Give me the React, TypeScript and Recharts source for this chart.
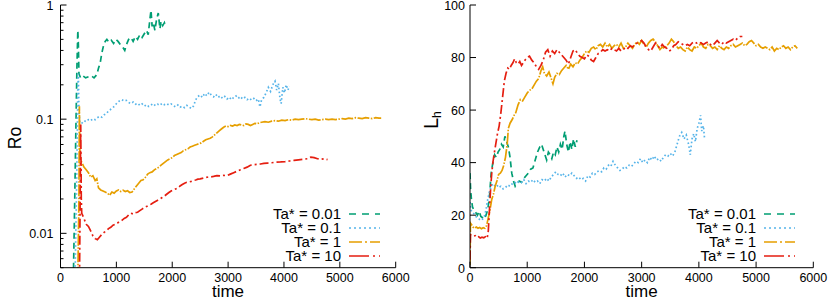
import React from 'react';
import { LineChart, Line, XAxis, YAxis } from 'recharts';

type P = [number, number];

const FONT = 'Liberation Sans, Arial, Helvetica, sans-serif';

const timeTicks = [0, 1000, 2000, 3000, 4000, 5000, 6000];
const roTicks = [0.005, 0.006, 0.007, 0.008, 0.009, 0.01, 0.02, 0.03, 0.04, 0.05, 0.06, 0.07, 0.08, 0.09, 0.1, 0.2, 0.3, 0.4, 0.5, 0.6, 0.7, 0.8, 0.9, 1];
const lhTicks = [0, 20, 40, 60, 80, 100];

const seriesNames = ['Ta* = 0.01', 'Ta* = 0.1', 'Ta* = 1', 'Ta* = 10'];
const seriesColors = ['#009e73', '#56b4e9', '#e69f00', '#e51e10'];
const legendDash = ['7 6', '2 3', '13 3 2 3', '20 4 2 4'];
const plotDash = ['6 4', '1.6 2.4', '12 1.5 1.5 1.5', '9 3 2 3'];

// Ro vs time
const roTa001: P[] = [[230,0.004],[255,0.02],[275,0.08],[295,0.3],[310,0.6],[320,0.45],[330,0.25],[360,0.23],[400,0.24],[450,0.23],[500,0.235],[550,0.24],[600,0.23],[650,0.245],[680,0.28],[710,0.31],[740,0.38],[770,0.44],[800,0.48],[830,0.5],[870,0.47],[910,0.49],[950,0.46],[990,0.5],[1030,0.48],[1070,0.45],[1110,0.43],[1150,0.4],[1180,0.45],[1220,0.5],[1260,0.52],[1300,0.48],[1340,0.53],[1380,0.5],[1420,0.55],[1460,0.52],[1500,0.56],[1540,0.6],[1570,0.55],[1600,0.75],[1620,0.9],[1640,0.65],[1660,0.7],[1690,0.6],[1720,0.75],[1750,0.85],[1780,0.62],[1800,0.72],[1830,0.66],[1860,0.7],[1880,0.64]];

const roTa01: P[] = [[260,0.004],[290,0.03],[310,0.2],[320,0.25],[330,0.12],[345,0.093],[380,0.092],[420,0.097],[460,0.095],[500,0.099],[540,0.097],[580,0.101],[620,0.099],[660,0.103],[700,0.106],[740,0.104],[780,0.109],[820,0.112],[860,0.118],[900,0.122],[940,0.126],[980,0.133],[1020,0.14],[1060,0.145],[1100,0.148],[1140,0.144],[1180,0.146],[1220,0.14],[1260,0.137],[1300,0.141],[1340,0.135],[1380,0.138],[1420,0.132],[1460,0.136],[1500,0.13],[1540,0.134],[1580,0.129],[1620,0.133],[1660,0.137],[1700,0.131],[1740,0.135],[1780,0.132],[1820,0.138],[1860,0.134],[1900,0.137],[1940,0.133],[1980,0.136],[2020,0.131],[2060,0.128],[2100,0.133],[2140,0.127],[2180,0.13],[2220,0.126],[2260,0.132],[2300,0.128],[2340,0.124],[2380,0.13],[2420,0.148],[2460,0.158],[2500,0.163],[2540,0.155],[2580,0.168],[2620,0.16],[2660,0.172],[2700,0.162],[2740,0.157],[2780,0.165],[2820,0.155],[2860,0.16],[2900,0.152],[2940,0.158],[2980,0.15],[3020,0.156],[3060,0.148],[3100,0.155],[3140,0.16],[3180,0.152],[3220,0.158],[3260,0.15],[3300,0.155],[3340,0.148],[3380,0.153],[3420,0.147],[3460,0.152],[3500,0.145],[3540,0.15],[3570,0.128],[3600,0.148],[3640,0.155],[3680,0.17],[3720,0.19],[3760,0.175],[3800,0.2],[3840,0.215],[3870,0.18],[3900,0.205],[3930,0.15],[3950,0.137],[3980,0.19],[4010,0.17],[4040,0.2],[4070,0.18],[4100,0.195]];

const roTa1: P[] = [[310,0.004],[330,0.02],[338,0.13],[345,0.06],[350,0.044],[380,0.042],[420,0.038],[460,0.036],[500,0.034],[540,0.031],[580,0.032],[620,0.029],[650,0.03],[680,0.025],[720,0.024],[760,0.0235],[800,0.023],[840,0.0225],[880,0.0215],[920,0.023],[960,0.0225],[1000,0.0235],[1040,0.024],[1080,0.0232],[1120,0.0238],[1160,0.0232],[1200,0.0236],[1240,0.0228],[1280,0.023],[1320,0.0245],[1360,0.026],[1400,0.0275],[1440,0.029],[1480,0.0295],[1520,0.031],[1560,0.033],[1600,0.034],[1640,0.0345],[1680,0.036],[1720,0.037],[1760,0.038],[1800,0.0395],[1840,0.041],[1880,0.0425],[1920,0.044],[1960,0.045],[2000,0.046],[2040,0.048],[2080,0.049],[2120,0.05],[2160,0.051],[2200,0.053],[2240,0.054],[2280,0.055],[2320,0.057],[2360,0.058],[2400,0.059],[2440,0.06],[2480,0.061],[2520,0.062],[2560,0.064],[2600,0.066],[2640,0.067],[2680,0.068],[2720,0.07],[2760,0.073],[2800,0.076],[2840,0.079],[2880,0.082],[2920,0.085],[2960,0.087],[3000,0.086],[3040,0.088],[3080,0.087],[3120,0.089],[3160,0.088],[3200,0.09],[3240,0.089],[3280,0.088],[3320,0.091],[3360,0.09],[3400,0.088],[3440,0.09],[3480,0.092],[3520,0.091],[3560,0.093],[3600,0.094],[3660,0.095],[3720,0.094],[3780,0.096],[3840,0.097],[3900,0.096],[3960,0.098],[4020,0.097],[4080,0.099],[4140,0.098],[4200,0.1],[4260,0.099],[4320,0.1],[4380,0.101],[4440,0.1],[4500,0.099],[4560,0.1],[4620,0.098],[4680,0.099],[4740,0.1],[4800,0.099],[4860,0.1],[4920,0.099],[4980,0.1],[5040,0.101],[5100,0.1],[5160,0.102],[5220,0.101],[5280,0.103],[5340,0.102],[5400,0.101],[5460,0.103],[5520,0.102],[5580,0.101],[5640,0.103],[5700,0.102],[5740,0.102]];

const roTa10: P[] = [[340,0.004],[355,0.03],[362,0.09],[368,0.04],[372,0.02],[380,0.015],[420,0.0135],[460,0.012],[500,0.0115],[540,0.0105],[580,0.0095],[620,0.009],[660,0.0088],[700,0.0093],[740,0.0098],[780,0.0102],[820,0.0105],[860,0.011],[900,0.0113],[940,0.0118],[980,0.012],[1020,0.0123],[1060,0.0127],[1100,0.013],[1140,0.0135],[1180,0.0138],[1220,0.0145],[1260,0.015],[1300,0.0148],[1340,0.0152],[1380,0.0153],[1420,0.0158],[1460,0.0163],[1500,0.0168],[1540,0.0172],[1580,0.0176],[1620,0.018],[1660,0.0185],[1700,0.019],[1740,0.0195],[1780,0.02],[1820,0.0206],[1860,0.0212],[1900,0.022],[1940,0.0228],[1980,0.0235],[2020,0.024],[2060,0.0245],[2100,0.025],[2140,0.026],[2180,0.0268],[2220,0.0275],[2260,0.028],[2300,0.0282],[2340,0.0285],[2380,0.029],[2420,0.0293],[2460,0.0298],[2500,0.03],[2560,0.0305],[2620,0.031],[2680,0.0312],[2740,0.0315],[2800,0.032],[2860,0.0318],[2920,0.0322],[2980,0.032],[3040,0.033],[3100,0.034],[3160,0.035],[3220,0.036],[3280,0.037],[3340,0.038],[3400,0.0395],[3460,0.04],[3520,0.0402],[3580,0.0405],[3640,0.041],[3700,0.0412],[3780,0.0415],[3860,0.042],[3940,0.0422],[4020,0.0425],[4100,0.043],[4180,0.0435],[4260,0.044],[4340,0.0445],[4420,0.045],[4480,0.0465],[4540,0.046],[4600,0.045],[4660,0.0445],[4720,0.045],[4780,0.0442]];

// L_h vs time
const lhTa001: P[] = [[0,36],[10,30],[25,26],[45,23],[70,22],[100,21],[130,20],[160,21.5],[190,19.5],[220,19],[250,18.5],[280,20],[310,22],[340,27],[370,36],[400,40],[430,43],[460,42],[490,44],[520,45],[550,47],[580,46],[610,50],[640,48],[670,46],[700,42],[730,36],[760,33],[790,31],[820,32],[860,33],[900,32.5],[940,34],[980,35],[1020,36],[1060,37.5],[1100,38],[1140,41],[1180,44],[1220,46],[1250,47],[1280,45],[1310,43],[1340,41],[1370,44],[1400,43],[1430,41.5],[1460,44],[1490,43],[1520,46],[1550,44],[1580,47],[1610,45],[1640,50],[1660,52],[1690,47],[1720,44],[1750,48],[1780,45],[1810,49],[1840,46],[1870,48.5]];

const lhTa01: P[] = [[0,25],[15,22],[40,21],[70,20.5],[100,19.5],[130,19],[160,18.5],[190,18],[220,18.5],[250,19.5],[280,22],[310,26],[340,29],[370,31],[400,32],[440,31],[470,31.5],[500,30.5],[540,31],[580,30],[620,30.5],[660,31.5],[700,31],[740,32],[780,32.5],[820,32],[860,33],[900,32.5],[940,33.5],[980,32],[1020,33],[1060,32.5],[1100,33.5],[1140,32.5],[1180,33],[1220,32],[1260,33.5],[1300,33],[1340,34],[1380,33],[1420,34.5],[1460,35.5],[1500,36.5],[1540,35.5],[1580,35],[1620,36],[1660,34.5],[1700,35.5],[1740,35],[1780,36],[1820,35],[1860,34],[1900,34.5],[1940,33.5],[1980,34],[2020,33],[2060,35],[2100,34.5],[2140,36],[2180,35.5],[2220,36.5],[2260,37],[2300,36.5],[2340,38],[2380,37.5],[2420,39],[2460,38.5],[2500,40.5],[2540,39],[2580,38],[2620,37],[2660,37.5],[2700,38.5],[2740,38],[2780,39],[2820,38.5],[2860,39.5],[2900,40.5],[2940,40],[2980,41.5],[3020,40],[3060,41],[3100,40],[3140,42],[3180,41],[3220,42.5],[3260,41],[3300,41.5],[3340,40.5],[3380,42],[3420,43],[3460,42.5],[3500,43.5],[3540,42.5],[3580,44],[3620,47],[3660,50],[3700,51.5],[3740,49],[3780,50.5],[3820,47],[3850,43],[3880,49],[3910,51],[3940,48],[3970,53],[4000,55],[4030,58],[4050,52],[4080,54],[4100,49]];

const lhTa1: P[] = [[0,1],[8,17],[25,16.5],[50,15.5],[80,15],[110,15.5],[140,15],[170,15.3],[200,14.8],[230,15.2],[260,15],[290,16],[320,19],[350,22],[380,26],[410,28],[440,31],[470,33],[500,35.5],[530,36],[560,37],[590,39],[620,42],[650,47],[670,53],[700,55],[740,56.5],[770,58],[800,59],[840,62],[880,64],[920,63.5],[960,65],[1000,66.5],[1040,67.5],[1080,68],[1120,69.5],[1160,71],[1200,72],[1240,75],[1270,76.5],[1300,74],[1340,73],[1380,74.5],[1420,72],[1450,70],[1480,72.5],[1520,74],[1560,73.5],[1600,75],[1640,76],[1680,77],[1720,75.5],[1760,77.5],[1800,76.5],[1840,78],[1880,77.5],[1920,79],[1960,80],[2000,81.5],[2040,82.5],[2080,82],[2120,83.5],[2160,84],[2200,83],[2240,84.5],[2280,85],[2320,84],[2360,85.5],[2400,84],[2440,85],[2480,83.5],[2520,84.5],[2560,85],[2600,84],[2640,85.5],[2680,83.5],[2720,84],[2760,85.5],[2800,84.5],[2840,83.5],[2880,85],[2920,86],[2960,85],[3000,86.5],[3040,85],[3080,84],[3120,85.5],[3160,86.5],[3200,87],[3240,86],[3280,84.5],[3320,83],[3360,84],[3400,83.5],[3440,84.5],[3480,85.5],[3520,87],[3560,86],[3600,84.5],[3640,83.5],[3680,84],[3720,83],[3760,82.5],[3800,84],[3840,83],[3880,82.5],[3920,84],[3960,83.5],[4000,84.5],[4040,85.5],[4080,84],[4120,83.5],[4160,85],[4200,84.5],[4240,83.5],[4280,84],[4320,83],[4360,84.5],[4400,83.5],[4440,83],[4480,84],[4520,83.5],[4560,84.5],[4600,85],[4640,84],[4680,84.5],[4720,85],[4760,85.5],[4800,84.5],[4840,85],[4880,86],[4920,86.5],[4960,85.5],[5000,84.5],[5040,85],[5080,84],[5120,83.5],[5160,84],[5200,83.5],[5240,83],[5280,84],[5320,82.5],[5360,83.5],[5400,83],[5440,84],[5480,84.5],[5520,83.5],[5560,84],[5600,83],[5640,84],[5680,84.5],[5720,83.5]];

const lhTa10: P[] = [[0,3],[8,12.5],[30,12.5],[60,12],[90,12.2],[120,11.5],[150,11.8],[180,11.3],[210,11.6],[240,11.4],[270,11.8],[300,11.2],[320,14],[340,22],[360,30],[380,36],[400,40],[420,43],[450,47],[480,51],[510,54],[540,59],[570,65],[600,71],[630,74],[660,76],[690,75.5],[720,77],[750,78],[780,79.5],[810,78],[840,77.5],[870,78.5],[900,77],[930,78],[960,79],[1000,80],[1040,80.5],[1080,79],[1120,78],[1160,76.5],[1200,75.5],[1240,77],[1280,79],[1320,82],[1360,83],[1400,80.5],[1440,82.5],[1480,81.5],[1520,83],[1560,82],[1600,81],[1640,80],[1680,79],[1720,77.5],[1760,80],[1800,82.5],[1840,83],[1880,81.5],[1920,80.5],[1960,80],[2000,79.5],[2040,81],[2080,80.5],[2120,79],[2160,78.5],[2200,80],[2240,81.5],[2280,82],[2320,83],[2360,82.5],[2400,83],[2440,82.5],[2480,83.5],[2520,83],[2560,82.5],[2600,83.5],[2640,82.5],[2680,83],[2720,84],[2760,83.5],[2800,84.5],[2840,84],[2880,85],[2920,85.5],[2960,86],[3000,86.5],[3040,85.5],[3080,84],[3120,83],[3160,82.5],[3200,84],[3240,85.5],[3280,84.5],[3320,83.5],[3360,85],[3400,84],[3440,83.5],[3480,82.5],[3520,83],[3560,84.5],[3600,85],[3640,86],[3680,85.5],[3720,85],[3760,84.5],[3800,85],[3840,84.5],[3880,85.5],[3920,86],[3960,85.5],[4000,86],[4040,85.5],[4080,85],[4120,85.5],[4160,86],[4200,85],[4240,84.5],[4280,85.5],[4320,86.5],[4360,85.5],[4400,85],[4440,86],[4480,85.5],[4520,86],[4560,86.5],[4600,87],[4640,86.5],[4680,87.5],[4720,88],[4760,88]];

const roSeries = [roTa001, roTa01, roTa1, roTa10];
const lhSeries = [lhTa001, lhTa01, lhTa1, lhTa10];

const toRows = (pts: P[]) => pts.map(([t, v]) => ({ t, v }));

const TICK_FS = 12.5;

const isMajorLog = (v: number) => {
  const lg = Math.log10(v);
  return Math.abs(lg - Math.round(lg)) < 1e-6;
};

const fmtRo = (v: number) => (v >= 1 ? '1' : v >= 0.1 ? '0.1' : '0.01');

const BottomTick = (props: any) => {
  const { x, y, payload } = props;
  return (
    <g>
      <line x1={x} x2={x} y1={y} y2={y - 6} stroke="#000" strokeWidth={1} />
      <text x={x} y={y + 5} dy="0.71em" textAnchor="middle" fontSize={TICK_FS} fontFamily={FONT} fill="#000">
        {payload.value}
      </text>
    </g>
  );
};

const TopTick = (props: any) => {
  const { x, y } = props;
  return <line x1={x} x2={x} y1={y} y2={y + 6} stroke="#000" strokeWidth={1} />;
};

const LogLeftTick = (props: any) => {
  const { x, y, payload } = props;
  const major = isMajorLog(payload.value);
  return (
    <g>
      <line x1={x} x2={x + (major ? 6 : 3)} y1={y} y2={y} stroke="#000" strokeWidth={1} />
      {major && (
        <text x={x - 7} y={y + 0.5} dy="0.35em" textAnchor="end" fontSize={TICK_FS} fontFamily={FONT} fill="#000">
          {fmtRo(payload.value)}
        </text>
      )}
    </g>
  );
};

const LogRightTick = (props: any) => {
  const { x, y, payload } = props;
  const major = isMajorLog(payload.value);
  return <line x1={x} x2={x - (major ? 6 : 3)} y1={y} y2={y} stroke="#000" strokeWidth={1} />;
};

const LinLeftTick = (props: any) => {
  const { x, y, payload } = props;
  return (
    <g>
      <line x1={x} x2={x + 6} y1={y} y2={y} stroke="#000" strokeWidth={1} />
      <text x={x - 5} y={y + 0.5} dy="0.35em" textAnchor="end" fontSize={TICK_FS} fontFamily={FONT} fill="#000">
        {payload.value}
      </text>
    </g>
  );
};

const LinRightTick = (props: any) => {
  const { x, y } = props;
  return <line x1={x} x2={x - 6} y1={y} y2={y} stroke="#000" strokeWidth={1} />;
};

const LegendBlock = () => (
  <g>
    {seriesNames.map((name, i) => {
      const y = 214 + i * 14;
      return (
        <g key={name}>
          <text x={341} y={y} dy="0.35em" textAnchor="end" fontSize={15} fontFamily={FONT} fill="#000">
            {name}
          </text>
          <line x1={349} x2={380} y1={y} y2={y} stroke={seriesColors[i]} strokeWidth={1.6} strokeDasharray={legendDash[i]} />
        </g>
      );
    })}
  </g>
);

const axisLineStyle = { stroke: '#000', strokeWidth: 1 };

const RoChart = () => (
  <LineChart width={415} height={300} margin={{ top: 5, right: 19.3, bottom: 0, left: 0 }}>
    <XAxis
      dataKey="t"
      type="number"
      domain={[0, 6000]}
      ticks={timeTicks}
      interval={0}
      tickSize={0}
      tickMargin={0}
      tickLine={false}
      axisLine={axisLineStyle}
      tick={<BottomTick />}
      height={32.3}
      allowDataOverflow
    />
    <XAxis
      xAxisId="top"
      orientation="top"
      type="number"
      domain={[0, 6000]}
      ticks={timeTicks}
      interval={0}
      tickSize={0}
      tickMargin={0}
      tickLine={false}
      axisLine={axisLineStyle}
      tick={<TopTick />}
      height={0}
    />
    <YAxis
      type="number"
      scale="log"
      domain={[0.005, 1]}
      ticks={roTicks}
      interval={0}
      tickSize={0}
      tickMargin={0}
      tickLine={false}
      axisLine={axisLineStyle}
      tick={<LogLeftTick />}
      width={60.5}
      allowDataOverflow
    />
    <YAxis
      yAxisId="r"
      orientation="right"
      type="number"
      scale="log"
      domain={[0.005, 1]}
      ticks={roTicks}
      interval={0}
      tickSize={0}
      tickMargin={0}
      tickLine={false}
      axisLine={axisLineStyle}
      tick={<LogRightTick />}
      width={0}
      allowDataOverflow
    />
    {roSeries.map((s, i) => (
      <Line
        key={seriesNames[i]}
        data={toRows(s)}
        dataKey="v"
        type="linear"
        stroke={seriesColors[i]}
        strokeWidth={1.7}
        strokeDasharray={plotDash[i]}
        dot={false}
        activeDot={false}
        isAnimationActive={false}
        name={seriesNames[i]}
      />
    ))}
    <text transform="translate(21,138) rotate(-90)" textAnchor="middle" fontSize={17.5} fontFamily={FONT} fill="#000">
      Ro
    </text>
    <text x={228} y={297} textAnchor="middle" fontSize={17} fontFamily={FONT} fill="#000">
      time
    </text>
    <LegendBlock />
  </LineChart>
);

const LhChart = () => (
  <LineChart width={415} height={300} margin={{ top: 5, right: 16.7, bottom: 0, left: 0 }}>
    <XAxis
      dataKey="t"
      type="number"
      domain={[0, 6000]}
      ticks={timeTicks}
      interval={0}
      tickSize={0}
      tickMargin={0}
      tickLine={false}
      axisLine={axisLineStyle}
      tick={<BottomTick />}
      height={32.3}
      allowDataOverflow
    />
    <XAxis
      xAxisId="top"
      orientation="top"
      type="number"
      domain={[0, 6000]}
      ticks={timeTicks}
      interval={0}
      tickSize={0}
      tickMargin={0}
      tickLine={false}
      axisLine={axisLineStyle}
      tick={<TopTick />}
      height={0}
    />
    <YAxis
      type="number"
      domain={[0, 100]}
      ticks={lhTicks}
      interval={0}
      tickSize={0}
      tickMargin={0}
      tickLine={false}
      axisLine={axisLineStyle}
      tick={<LinLeftTick />}
      width={55}
      allowDataOverflow
    />
    <YAxis
      yAxisId="r"
      orientation="right"
      type="number"
      domain={[0, 100]}
      ticks={lhTicks}
      interval={0}
      tickSize={0}
      tickMargin={0}
      tickLine={false}
      axisLine={axisLineStyle}
      tick={<LinRightTick />}
      width={0}
    />
    {lhSeries.map((s, i) => (
      <Line
        key={seriesNames[i]}
        data={toRows(s)}
        dataKey="v"
        type="linear"
        stroke={seriesColors[i]}
        strokeWidth={1.7}
        strokeDasharray={plotDash[i]}
        dot={false}
        activeDot={false}
        isAnimationActive={false}
        name={seriesNames[i]}
      />
    ))}
    <text transform="translate(23,129) rotate(-90)" fontSize={20} fontFamily={FONT} fill="#000">
      L<tspan fontSize={12} dy={3}>h</tspan>
    </text>
    <text x={226.6} y={297} textAnchor="middle" fontSize={17} fontFamily={FONT} fill="#000">
      time
    </text>
    <LegendBlock />
  </LineChart>
);

export default function App() {
  return (
    <div style={{ position: 'absolute', left: 0, top: 0, width: 830, height: 300, background: '#fff' }}>
      <div style={{ position: 'absolute', left: 0, top: 0 }}>
        <RoChart />
      </div>
      <div style={{ position: 'absolute', left: 415, top: 0 }}>
        <LhChart />
      </div>
    </div>
  );
}
